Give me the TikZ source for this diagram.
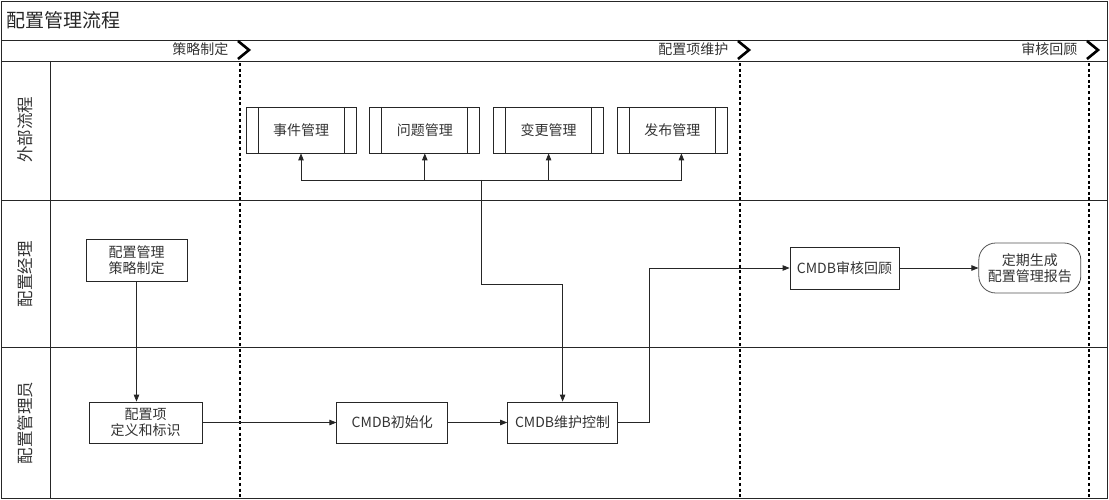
\documentclass[tikz,border=0pt]{standalone}
\usepackage{fontspec}
\setmainfont{Noto Sans CJK SC}
\usetikzlibrary{arrows.meta, positioning, calc}
\definecolor{linegray}{HTML}{262626}
\definecolor{textgray}{HTML}{333333}

\begin{document}
\begin{tikzpicture}[
    x=1pt, y=-1pt,
    font=\fontsize{14}{16.5}\selectfont,
    box/.style={rectangle, draw=linegray, line width=0.8pt, align=center, minimum height=41pt, text=textgray},
    predef/.style={box, minimum width=110pt, minimum height=46pt,
        path picture={\draw[linegray, line width=0.8pt]
            ([xshift=12pt]path picture bounding box.north west) -- ([xshift=12pt]path picture bounding box.south west)
            ([xshift=-12pt]path picture bounding box.north east) -- ([xshift=-12pt]path picture bounding box.south east);}},
    term/.style={box, draw=linegray!80, rounded corners=17pt, minimum width=102pt, minimum height=50pt},
    arrow/.style={-{Triangle[length=7pt,width=5.5pt]}, line width=0.8pt, linegray},
    laneline/.style={line width=0.8pt, linegray},
    phaseline/.style={line width=2.6pt, dash pattern=on 3pt off 2.6pt},
    chevron/.style={line width=2.6pt, line join=miter},
    phase/.style={anchor=east, text=textgray},
    lanelabel/.style={rotate=90, font=\fontsize{16.5}{18}\selectfont, text=textgray}
]
\useasboundingbox (0,0) rectangle (1109,500);

% Frame and lanes
\draw[laneline] (1,1) rectangle (1107,498);
\draw[laneline] (1,40) -- (1107,40);
\draw[laneline] (1,61) -- (1107,61);
\draw[laneline] (1,200) -- (1107,200);
\draw[laneline] (1,347) -- (1107,347);
\draw[laneline] (50,61) -- (50,498);

% Title
\node[anchor=west, font=\fontsize{19}{21}\selectfont, text=black!85] (title) at (3,20) {配置管理流程};

% Phases
\foreach \px/\pname/\plabel in {240/plan/策略制定, 740/maint/配置项维护, 1089/audit/审核回顾} {
    \draw[phaseline] (\px,63) -- (\px,498);
    \draw[chevron] (\px-2,41) -- (\px+9,50) -- (\px-2,59);
    \node[phase] (\pname) at (\px-8,49) {\plabel};
}

% Lane labels
\node[lanelabel] (lextern) at (25,130) {外部流程};
\node[lanelabel] (lmanager) at (25,274) {配置经理};
\node[lanelabel] (ladmin) at (25,423) {配置管理员};

% External processes
\node[predef] (incident) at (301,130) {事件管理};
\node[predef, right=13pt of incident] (problem) {问题管理};
\node[predef, right=13pt of problem] (change) {变更管理};
\node[predef, right=13pt of change] (release) {发布管理};

% Configuration manager
\node[box, minimum width=101pt, minimum height=42pt] (strategy) at (136.5,260) {配置管理\\策略制定};
\node[box, minimum width=109pt, minimum height=42pt] (review) at (844.5,268) {CMDB审核回顾};
\node[term, right=79pt of review] (report) {定期生成\\配置管理报告};

% Configuration administrator
\node[box, minimum width=113pt] (define) at (145.5,422.5) {配置项\\定义和标识};
\node[box, minimum width=111pt, right=134pt of define] (init) {CMDB初始化};
\node[box, minimum width=110pt, right=59pt of init] (ctrl) {CMDB维护控制};

% Arrows
\coordinate (hub) at (481,180);
\draw[arrow] (hub) -| (incident);
\draw[arrow] (hub) -| (problem);
\draw[arrow] (hub) -| (change);
\draw[arrow] (hub) -| ([xshift=9pt]release.south);
\draw[arrow] (hub) -- ++(0,104) -| (ctrl);
\draw[arrow] (strategy) -- (strategy |- define.north);
\draw[arrow] (define) -- (init);
\draw[arrow] (init) -- (ctrl);
\draw[arrow] (ctrl.east) -- ++(31,0) |- (review);
\draw[arrow] (review) -- (report);

\end{tikzpicture}
\end{document}
